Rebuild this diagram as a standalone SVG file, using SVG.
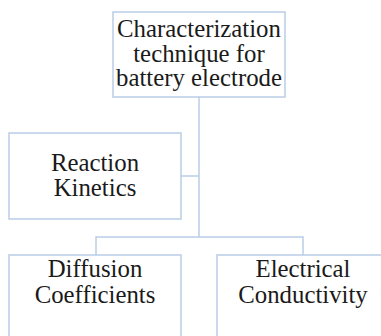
<svg xmlns="http://www.w3.org/2000/svg" width="381" height="336" viewBox="0 0 381 336">
<style>
.box{fill:#ffffff;stroke:#b9cde5;stroke-width:1.5}
.ln{fill:none;stroke:#b9cde5;stroke-width:1.5}
text{font-family:"Liberation Serif","Times New Roman",serif;font-size:24.8px;fill:#1a1a1a;text-anchor:middle}
</style>
<rect width="381" height="336" fill="#ffffff"/>
<g id="connectors">
<path class="ln" d="M199 97 V237"/>
<path class="ln" d="M181 176 H199"/>
<path class="ln" d="M96 255 V237 H303 V255"/>
</g>
<g id="root">
<rect class="box" x="113" y="12" width="172" height="85"/>
<text x="199" y="37">Characterization</text>
<text x="199" y="61.5">technique for</text>
<text x="199" y="86">battery electrode</text>
</g>
<g id="reaction">
<rect class="box" x="9" y="133" width="172" height="86"/>
<text x="95" y="171">Reaction</text>
<text x="95" y="195.5">Kinetics</text>
</g>
<g id="diffusion">
<rect class="box" x="9" y="255" width="172" height="86"/>
<text x="95" y="277">Diffusion</text>
<text x="95" y="302.5">Coefficients</text>
</g>
<g id="electrical">
<rect class="box" x="217" y="255" width="172" height="86"/>
<text x="303" y="277">Electrical</text>
<text x="303" y="302.5">Conductivity</text>
</g>
</svg>
